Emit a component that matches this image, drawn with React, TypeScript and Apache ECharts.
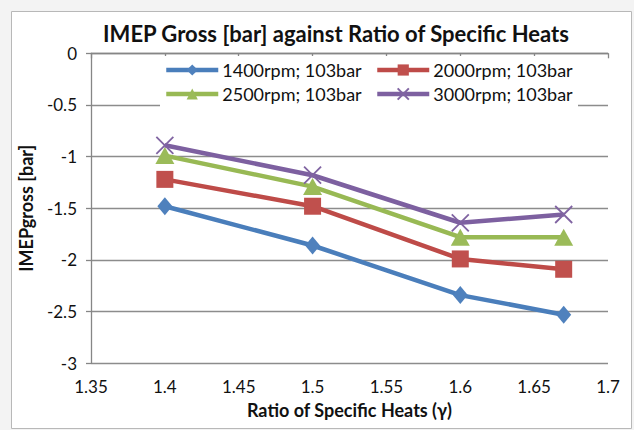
import React, { useEffect, useRef } from "react";
import * as echarts from "echarts";

const xValues = [1.4, 1.5, 1.6, 1.67];
const seriesNames = ["1400rpm; 103bar", "2000rpm; 103bar", "2500rpm; 103bar", "3000rpm; 103bar"];
const s1400 = [-1.48, -1.86, -2.34, -2.53];
const s2000 = [-1.22, -1.48, -1.99, -2.09];
const s2500 = [-0.99, -1.29, -1.78, -1.78];
const s3000 = [-0.89, -1.18, -1.64, -1.56];
const seriesValues = [s1400, s2000, s2500, s3000];
const lineColors = ["#4A7EBB", "#BE4B48", "#98B954", "#7D60A0"];
const markerColors = ["#4F81BD", "#C0504D", "#9BBB59", "#8064A2"];
const titleText = "IMEP Gross [bar] against Ratio of Specific Heats";
const xAxisName = "Ratio of Specific Heats (γ)";
const yAxisName = "IMEPgross [bar]";

const FONT = "Lato, 'Open Sans', sans-serif";
const CROSS = "path://M0,0 L10,10 M10,0 L0,10";

export default function App() {
  const ref = useRef<HTMLDivElement>(null);
  useEffect(() => {
    if (!ref.current) return;
    const chart = echarts.init(ref.current, undefined, { renderer: "svg" });
    const symbols: any[] = ["diamond", "rect", "triangle", CROSS];
    const sizes: any[] = [[15, 18], 17, [19, 17], 17];
    const series = seriesNames.map((name, i) => ({
      name,
      type: "line",
      data: xValues.map((x, j) => [x, seriesValues[i][j]]),
      symbol: symbols[i],
      symbolSize: sizes[i],
      showAllSymbol: true,
      lineStyle: { color: lineColors[i], width: 4.5 },
      itemStyle:
        i === 3
          ? { color: "none", borderColor: markerColors[i], borderWidth: 1.8 }
          : { color: markerColors[i], borderColor: markerColors[i], borderWidth: 0 },
      z: 3 + i,
    }));
    const legendPos = [
      [164, 61],
      [375, 61],
      [164, 85],
      [375, 85],
    ];
    const legends = seriesNames.map((n, i) => ({
      data: [n],
      left: legendPos[i][0],
      top: legendPos[i][1],
      padding: 0,
      itemWidth: 52,
      itemHeight: 14,
      itemGap: 0,
      lineStyle: { width: 4.5 },
      textStyle: { fontFamily: FONT, fontSize: 18, color: "#111", padding: [0, 0, 0, -1] },
      z: 10,
    }));
    chart.setOption({
      animation: false,
      backgroundColor: "#f3f3f3",
      title: {
        text: titleText,
        left: 331,
        top: 17,
        textAlign: "center",
        textStyle: { fontFamily: FONT, fontSize: 22, fontWeight: "bold", color: "#111" },
      },
      graphic: [
        {
          type: "rect",
          shape: { x: 11.5, y: 11.5, width: 620, height: 417 },
          style: { fill: "#ffffff", stroke: "#b8b8b8", lineWidth: 1 },
          z: -10,
          silent: true,
        },
        {
          type: "rect",
          shape: { x: 160, y: 56, width: 418, height: 51 },
          style: { fill: "#ffffff" },
          z: 5,
          silent: true,
        },
      ],
      legend: legends,
      grid: { left: 91, top: 53.3, right: 26, bottom: 66.7 },
      xAxis: {
        type: "value",
        min: 1.35,
        max: 1.7,
        interval: 0.05,
        name: xAxisName,
        nameLocation: "middle",
        nameGap: 38,
        nameTextStyle: { fontFamily: FONT, fontSize: 18, fontWeight: "bold", color: "#111" },
        axisLine: { show: true, lineStyle: { color: "#868686", width: 1.3 } },
        axisTick: { show: true, length: 5, lineStyle: { color: "#868686", width: 1.3 } },
        axisLabel: {
          fontFamily: FONT,
          fontSize: 17,
          color: "#111",
          margin: 15,
          formatter: (v: number) => String(Math.round(v * 100) / 100),
        },
        splitLine: { show: false },
      },
      yAxis: {
        type: "value",
        min: -3,
        max: 0,
        interval: 0.5,
        name: yAxisName,
        nameLocation: "middle",
        nameGap: 56,
        nameTextStyle: { fontFamily: FONT, fontSize: 18, fontWeight: "bold", color: "#111" },
        axisLine: { show: true, lineStyle: { color: "#868686", width: 1.3 } },
        axisTick: { show: true, length: 5, lineStyle: { color: "#868686", width: 1.3 } },
        axisLabel: { fontFamily: FONT, fontSize: 17, color: "#111", margin: 14 },
        splitLine: { show: true, lineStyle: { color: "#8c8c8c", width: 1.3 } },
      },
      series,
    });
    return () => chart.dispose();
  }, []);
  return (
    <div
      ref={ref}
      style={{ position: "fixed", left: 0, top: 0, width: 634, height: 430 }}
    />
  );
}
